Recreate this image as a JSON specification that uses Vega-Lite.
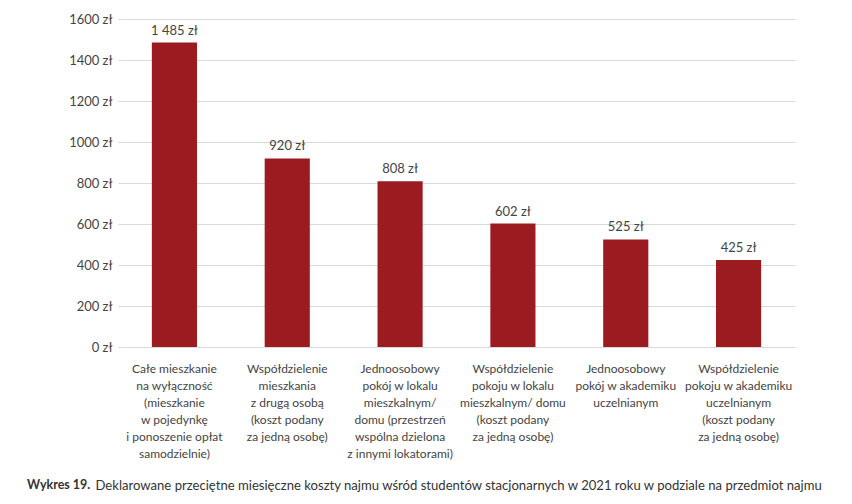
{
  "$schema": "https://vega.github.io/schema/vega-lite/v6.json",
  "width": 677,
  "height": 328,
  "autosize": {"type": "none"},
  "padding": {"left": 118, "top": 19, "right": 57, "bottom": 157},
  "background": "white",
  "config": {
    "font": "Lato",
    "view": {"stroke": null}
  },
  "title": {
    "text": "Wykres 19.",
    "orient": "bottom",
    "anchor": "start",
    "frame": "group",
    "fontSize": 12.5,
    "fontWeight": "bold",
    "font": "Lato",
    "color": "#333333",
    "dx": -91,
    "dy": -17
  },
  "data": {
    "values": [
      {"kategoria": "Całe mieszkanie|na wyłączność|(mieszkanie|w pojedynkę|i ponoszenie opłat|samodzielnie)", "koszt": 1485, "etykieta": "1 485 zł"},
      {"kategoria": "Współdzielenie|mieszkania|z drugą osobą|(koszt podany|za jedną osobę)", "koszt": 920, "etykieta": "920 zł"},
      {"kategoria": "Jednoosobowy|pokój w lokalu|mieszkalnym/|domu (przestrzeń|wspólna dzielona|z innymi lokatorami)", "koszt": 808, "etykieta": "808 zł"},
      {"kategoria": "Współdzielenie|pokoju w lokalu|mieszkalnym/ domu|(koszt podany|za jedną osobę)", "koszt": 602, "etykieta": "602 zł"},
      {"kategoria": "Jednoosobowy|pokój w akademiku|uczelnianym", "koszt": 525, "etykieta": "525 zł"},
      {"kategoria": "Współdzielenie|pokoju w akademiku|uczelnianym|(koszt podany|za jedną osobę)", "koszt": 425, "etykieta": "425 zł"}
    ]
  },
  "encoding": {
    "x": {
      "field": "kategoria",
      "type": "nominal",
      "sort": null,
      "scale": {"paddingInner": 0.6, "paddingOuter": 0.3},
      "axis": {
        "title": "Deklarowane przeciętne miesięczne koszty najmu wśród studentów stacjonarnych w 2021 roku w podziale na przedmiot najmu",
        "titleFont": "Lato",
        "titleFontSize": 13.1,
        "titleFontWeight": "normal",
        "titleColor": "#333333",
        "titleAnchor": "start",
        "titleAlign": "left",
        "titleBaseline": "middle",
        "titleX": -23,
        "titleY": 138,
        "labelExpr": "split(datum.value, '|')",
        "labelAngle": 0,
        "labelFontSize": 12,
        "labelLineHeight": 17,
        "labelColor": "#444444",
        "labelPadding": 16,
        "labelBaseline": "top",
        "ticks": false,
        "domain": false
      }
    },
    "y": {
      "field": "koszt",
      "type": "quantitative",
      "scale": {"domain": [0, 1600]},
      "axis": {
        "title": null,
        "values": [0, 200, 400, 600, 800, 1000, 1200, 1400, 1600],
        "labelExpr": "datum.value + ' zł'",
        "labelFontSize": 13,
        "labelColor": "#444444",
        "labelPadding": 6,
        "ticks": false,
        "domain": false,
        "gridColor": "#d9d9d9",
        "gridWidth": 1.2
      }
    }
  },
  "layer": [
    {"mark": {"type": "bar", "color": "#9b1b21"}},
    {
      "mark": {"type": "text", "dy": -8, "baseline": "alphabetic", "fontSize": 13, "color": "#444444", "font": "Lato"},
      "encoding": {"text": {"field": "etykieta"}}
    }
  ]
}
